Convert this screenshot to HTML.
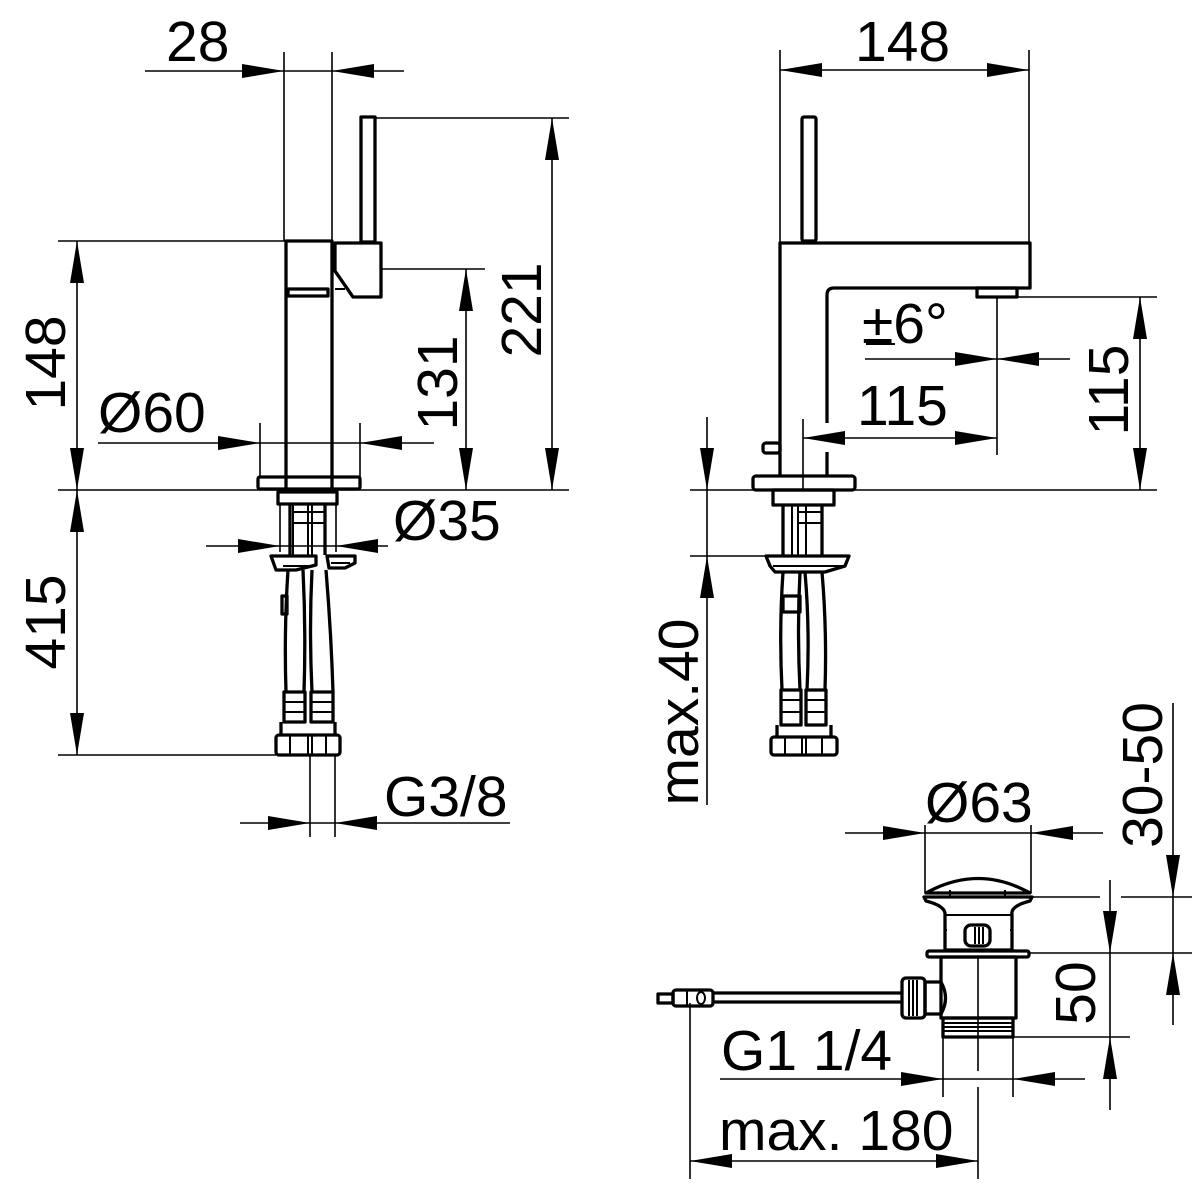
<!DOCTYPE html>
<html><head><meta charset="utf-8"><style>
html,body{margin:0;padding:0;background:#fff;}
svg{display:block;}
text{font-family:"Liberation Sans",Arial,sans-serif;font-size:57px;fill:#000;}
.d{stroke:#000;stroke-width:1.6;fill:none;}
.o{stroke:#000;stroke-width:3.3;fill:none;stroke-linejoin:round;}
.t{stroke:#000;stroke-width:2;fill:none;}
.a{fill:#000;stroke:none;}
</style></head><body>
<svg width="1200" height="1200" viewBox="0 0 1200 1200" xmlns="http://www.w3.org/2000/svg">
<!-- ============ LEFT FAUCET ============ -->
<path class="d" d="M145 71H404M284 52V241M332 52V241"/>
<polygon class="a" points="242,64 284,71 242,78"/>
<polygon class="a" points="374,64 332,71 374,78"/>
<text x="166" y="61">28</text>
<rect class="o" x="361" y="117" width="14" height="125"/>
<path class="o" d="M286 490V241H332V490"/>
<rect class="o" x="288" y="289" width="40" height="7"/>
<path class="o" d="M335 243H381V297H353L335 271Z"/>
<path class="t" d="M335 289H345"/>
<path class="d" d="M375 118H569M552 118V490"/>
<polygon class="a" points="545,160 552,118 559,160"/>
<polygon class="a" points="545,448 552,490 559,448"/>
<text transform="translate(541,310) rotate(-90)" text-anchor="middle">221</text>
<path class="d" d="M381 269H485M466 269V490"/>
<polygon class="a" points="459,311 466,269 473,311"/>
<polygon class="a" points="459,448 466,490 473,448"/>
<text transform="translate(457,383) rotate(-90)" text-anchor="middle">131</text>
<path class="d" d="M58 241H286M77 241V755"/>
<polygon class="a" points="70,283 77,241 84,283"/>
<polygon class="a" points="70,448 77,490 84,448"/>
<polygon class="a" points="70,532 77,490 84,532"/>
<polygon class="a" points="70,713 77,755 84,713"/>
<text transform="translate(65,363) rotate(-90)" text-anchor="middle">148</text>
<text transform="translate(65,622) rotate(-90)" text-anchor="middle">415</text>
<path class="d" d="M98 443H434M260 423V477M360 423V477"/>
<polygon class="a" points="218,436 260,443 218,450"/>
<polygon class="a" points="402,436 360,443 402,450"/>
<text x="98" y="432">Ø60</text>
<rect class="o" x="258" y="477" width="102" height="12" rx="2"/>
<path class="d" d="M58 490H569"/>
<rect class="o" x="278" y="492" width="59" height="12"/>
<path class="o" d="M290 504V555M325 504V555"/>
<path class="t" d="M293 504V555M308 504V555M312 504V555M293 512H325M293 523H325"/>
<path class="d" d="M206 546H388M280 504V552M336 504V552"/>
<polygon class="a" points="238,539 280,546 238,553"/>
<polygon class="a" points="378,539 336,546 378,553"/>
<text x="393" y="540">Ø35</text>
<path class="o" d="M271 556H316V565L296 570H276Z"/>
<path class="o" d="M327 556H355V563L345 568H329Z"/>
<path class="t" d="M283 566H310M331 563H350"/>
<path class="o" d="M288 570Q284 630 286 692M303 570Q306 630 304 692M312 570Q309 630 312 692M326 570Q331 630 333 692"/>
<rect class="o" x="282" y="596" width="5" height="18"/>
<rect class="o" x="284" y="692" width="21" height="30"/>
<rect class="o" x="311" y="692" width="22" height="30"/>
<path class="t" d="M284 702H305M284 712H305M311 702H333M311 712H333"/>
<rect class="o" x="276" y="735" width="64" height="20" rx="3"/>
<path class="o" d="M281 722V735M335 722V735"/>
<path class="t" d="M290 735V755M308 735V755M312 735V755M326 735V755"/>
<path class="d" d="M58 755H276"/>
<path class="d" d="M240 823H510M310 755V837M335 755V837"/>
<polygon class="a" points="268,816 310,823 268,830"/>
<polygon class="a" points="377,816 335,823 377,830"/>
<text x="384" y="816">G3/8</text>

<!-- ============ RIGHT FAUCET ============ -->
<path class="d" d="M780 50V243M1029 50V243M780 70H1029"/>
<polygon class="a" points="822,63 780,70 822,77"/>
<polygon class="a" points="987,63 1029,70 987,77"/>
<text x="855" y="61">148</text>
<rect class="o" x="802" y="117" width="14" height="124" rx="2"/>
<path class="o" d="M780 476V243H1030V288H834Q827 288 827 295V423M827 452V476"/>
<rect class="o" x="977" y="288" width="40" height="9"/>
<path class="d" d="M1017 297H1157M1140 297V490M997 297V455"/>
<polygon class="a" points="1133,339 1140,297 1147,339"/>
<polygon class="a" points="1133,448 1140,490 1147,448"/>
<text transform="translate(1128,390) rotate(-90)" text-anchor="middle">115</text>
<path class="d" d="M865 359H1070"/>
<polygon class="a" points="955,352 997,359 955,366"/>
<polygon class="a" points="1039,352 997,359 1039,366"/>
<text x="862" y="343">±6°</text>
<path class="t" d="M866 344H895"/>
<path class="d" d="M803 419V490M803 438H997"/>
<polygon class="a" points="845,431 803,438 845,445"/>
<polygon class="a" points="955,431 997,438 955,445"/>
<text x="857" y="425">115</text>
<rect class="o" x="763" y="443" width="17" height="10" rx="3"/>
<rect class="o" x="753" y="476" width="102" height="14" rx="3"/>
<path class="d" d="M690 490H1157"/>
<rect class="o" x="773" y="490" width="61" height="15"/>
<path class="o" d="M783 505V556M822 505V556"/>
<path class="t" d="M792 505V556M798 505V556M806 505V556M798 512H822M798 523H822"/>
<path class="d" d="M707 417V805M690 556H766"/>
<polygon class="a" points="700,448 707,490 714,448"/>
<polygon class="a" points="700,598 707,556 714,598"/>
<text transform="translate(698,712) rotate(-90)" text-anchor="middle">max.40</text>
<path class="o" d="M766 556H849L845 566L825 572H775L770 566Z"/>
<path class="t" d="M773 566H845"/>
<path class="o" d="M783 572Q779 630 782 690M800 572Q797 630 800 690M805 572Q810 630 807 690M822 572Q827 630 825 690"/>
<rect class="o" x="783" y="596" width="17" height="16"/>
<rect class="o" x="781" y="690" width="20" height="35"/>
<rect class="o" x="806" y="690" width="20" height="35"/>
<path class="t" d="M781 700H801M781 712H801M806 700H826M806 712H826"/>
<rect class="o" x="771" y="737" width="66" height="18" rx="3"/>
<path class="o" d="M777 725V737M831 725V737"/>
<path class="t" d="M785 737V755M802 737V755M806 737V755M822 737V755"/>

<!-- ============ DRAIN ============ -->
<path class="d" d="M845 833H1103M925 825V893M1031 825V893"/>
<polygon class="a" points="883,826 925,833 883,840"/>
<polygon class="a" points="1073,826 1031,833 1073,840"/>
<text x="925" y="822">Ø63</text>
<path class="o" d="M926 893Q978 864 1030 893Z"/>
<path class="t" d="M950 890V896M1005 890V896"/>
<path class="o" d="M924 897H1032L1030 901Q1010 906 1012 915L1012 950H945L945 915Q946 906 926 901Z"/>
<path class="t" d="M945 915H1012M944 930h3M1010 930h3"/>
<rect class="o" x="965" y="925" width="25" height="21" rx="6"/>
<path class="t" d="M975 927V944M979 927V944M983 927V944"/>
<rect class="o" x="927" y="951" width="102" height="6" rx="2"/>
<rect class="o" x="941" y="957" width="75" height="61"/>
<rect class="o" x="943" y="1018" width="70" height="19"/>
<path class="t" d="M943 1023H1013M943 1027H1013M943 1031H1013"/>
<path class="d" d="M978 957V1071M978 1087V1179"/>
<path class="o" d="M941 982H925V1014H941Q950 998 941 982Z"/>
<rect class="o" x="902" y="978" width="23" height="40" rx="4"/>
<path class="t" d="M909 980V1016M913 980V1016M917 980V1016"/>
<path class="o" d="M713 993H902M713 1002H902"/>
<rect class="o" x="673" y="990" width="40" height="16" rx="3"/>
<rect class="o" x="658" y="994" width="15" height="9"/>
<ellipse class="t" cx="701" cy="998" rx="4" ry="6"/>
<path class="t" d="M687 990V1006"/>
<path class="d" d="M1031 897H1100M1121 897H1192M1029 953H1192M1013 1037H1130M1110 880V1110M1173 703V1025"/>
<polygon class="a" points="1103,911 1110,953 1117,911"/>
<polygon class="a" points="1103,1079 1110,1037 1117,1079"/>
<polygon class="a" points="1166,855 1173,897 1180,855"/>
<polygon class="a" points="1166,995 1173,953 1180,995"/>
<text transform="translate(1095,993) rotate(-90)" text-anchor="middle">50</text>
<text transform="translate(1162,775) rotate(-90)" text-anchor="middle">30-50</text>
<path class="d" d="M720 1079H1085M943 1037V1097M1013 1037V1097"/>
<polygon class="a" points="901,1072 943,1079 901,1086"/>
<polygon class="a" points="1055,1072 1013,1079 1055,1086"/>
<text x="721" y="1070">G1 1/4</text>
<path class="d" d="M690 1003V1179M690 1161H978"/>
<polygon class="a" points="732,1154 690,1161 732,1168"/>
<polygon class="a" points="936,1154 978,1161 936,1168"/>
<text x="719" y="1150">max. 180</text>
</svg>
</body></html>
